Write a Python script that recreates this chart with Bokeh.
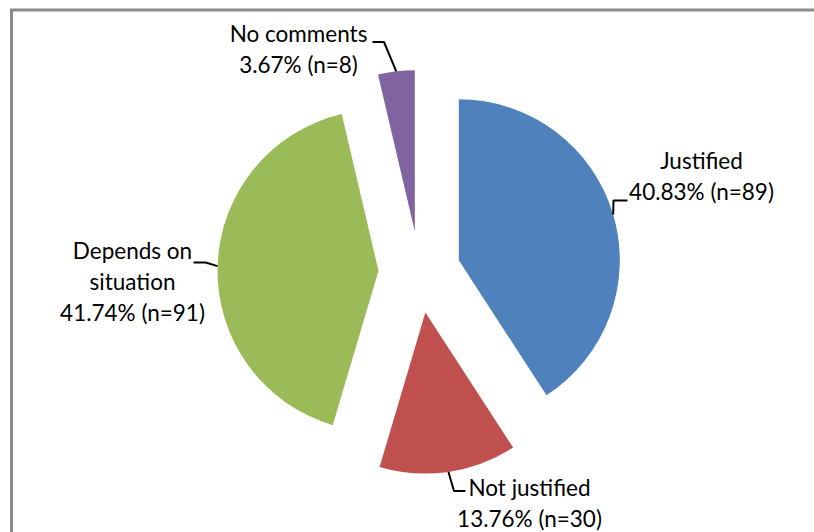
import math
from bokeh.plotting import figure
from bokeh.models import Range1d, ColumnDataSource
from bokeh.core.properties import value
from bokeh.embed import file_html
from bokeh.resources import INLINE

# ---- data ----
categories = ["Justified", "Not justified", "Depends on situation", "No comments"]
counts = [89, 30, 91, 8]
percents = [40.83, 13.76, 41.74, 3.67]
colors = ["#4F81BD", "#C0504D", "#9BBB59", "#8064A2"]
label_lines = [["Justified"], ["Not justified"], ["Depends on", "situation"], ["No comments"]]

# ---- layout (screen pixels) ----
W, H = 814, 532
CX, CY = 419.0, 271.5      # pie centre
R = 161.0                  # radius
EXPLODE = 41.0             # explosion offset
FONT = "Lato"
FS = 22.5
LINE_H = 31
# label centre (x, y of first line) and leader elbow per slice
label_pos = [(701, 160), (529, 487), (132, 250), (298, 33)]
elbows = [
    [(627, 200), (613, 200)],
    [(465, 490.5), (453.5, 490.5)],
    [(193, 262), (205, 262)],
    [(372, 41.5), (383.5, 41.5)],
]

p = figure(width=W, height=H, x_range=Range1d(0, W), y_range=Range1d(H, 0),
           x_axis_type=None, y_axis_type=None, toolbar_location=None,
           output_backend="svg", min_border=0, outline_line_color=None)
p.grid.visible = False
p.background_fill_color = "white"

total = sum(percents)
start = 0.0
xs, ys, sa, ea, mids = [], [], [], [], []
for pc in percents:
    span = pc / total * 360.0
    mid = start + span / 2
    m = math.radians(mid)
    xs.append(CX + EXPLODE * math.sin(m))
    ys.append(CY - EXPLODE * math.cos(m))
    sa.append(math.radians(90 - (start + span)))
    ea.append(math.radians(90 - start))
    mids.append(m)
    start += span

src = ColumnDataSource(dict(x=xs, y=ys, sa=sa, ea=ea, color=colors, cat=categories))
p.wedge(x="x", y="y", radius=R, start_angle="sa", end_angle="ea", source=src,
        fill_color="color", line_color=None)

# leader lines
for i in range(len(categories)):
    ex = xs[i] + R * math.sin(mids[i])
    ey = ys[i] - R * math.cos(mids[i])
    (ax, ay), (bx, by) = elbows[i]
    p.line([ax, bx, ex], [ay, by, ey], line_color="black", line_width=2)

# labels
tx, ty, tt = [], [], []
for i in range(len(categories)):
    lines = label_lines[i] + [f"{percents[i]:.2f}% (n={counts[i]})"]
    lx, ly = label_pos[i]
    for k, s in enumerate(lines):
        tx.append(lx)
        ty.append(ly + k * LINE_H)
        tt.append(s)
p.text(x=tx, y=ty, text=tt, text_align="center", text_baseline="middle",
       text_font=value(FONT), text_font_size=f"{FS}px", text_color="black")

# chart-area frame (only left and top edges are visible)
p.line([11, 11, W + 5], [H + 5, 9.5, 9.5], line_color="#8a8a8a", line_width=3,
       line_join="miter")

open("out.html", "w").write(file_html(p, INLINE))
